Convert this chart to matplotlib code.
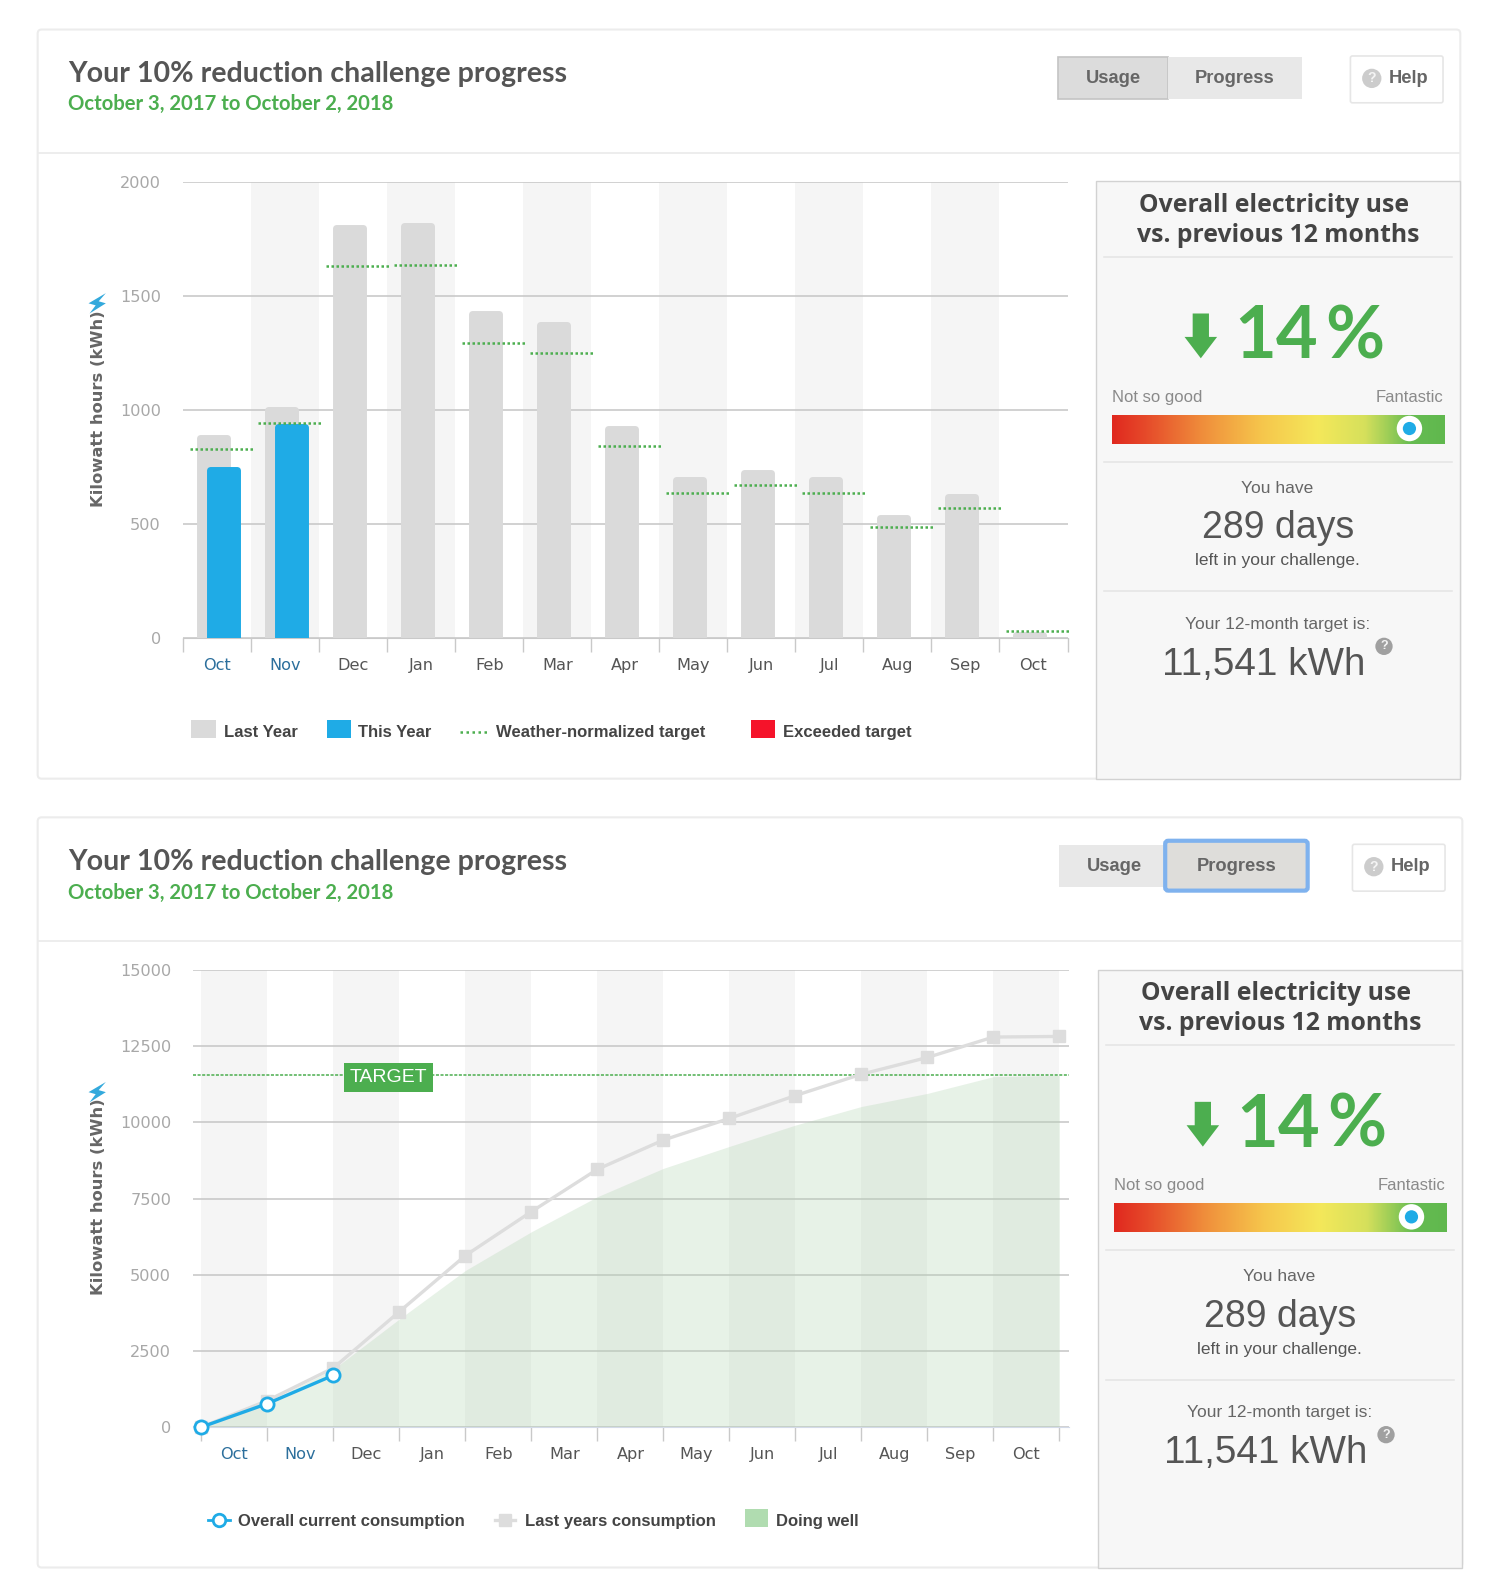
import numpy as np
import matplotlib
matplotlib.use("Agg")
import matplotlib.pyplot as plt
from matplotlib.patches import Rectangle, FancyBboxPatch, Circle, Ellipse, Polygon
from matplotlib.colors import LinearSegmentedColormap

W, H = 1474.0, 1568.0

months = ['Oct', 'Nov', 'Dec', 'Jan', 'Feb', 'Mar', 'Apr', 'May', 'Jun', 'Jul', 'Aug', 'Sep', 'Oct']

# usage chart (kWh per month)
last_year = [893, 1018, 1812, 1821, 1437, 1388, 933, 710, 741, 710, 540, 634, 30]
this_year = [754, 942]
monthly_target = [830, 946, 1634, 1638, 1295, 1250, 844, 638, 670, 638, 487, 571, 31]

# progress chart (cumulative kWh)
last_year_total = [0, 870, 1940, 3790, 5630, 7070, 8460, 9420, 10130, 10880, 11580, 12130, 12800, 12820]
current_total = [0, 770, 1700]
doing_well = [0, 830, 1900, 3550, 5140, 6410, 7560, 8490, 9210, 9910, 10520, 10950, 11500, 11541]
target_total = 11541

GREEN = '#4cae4f'
BLUE = '#1fabe6'
GRID = '#c9c9c9'
TITLE_FONT = 'Lato'
UI_FONT = 'Liberation Sans'

fig = plt.figure(figsize=(15, 15.96), dpi=100, facecolor='white')
bg = fig.add_axes([0, 0, 1, 1])
bg.set_xlim(0, W)
bg.set_ylim(H, 0)
bg.axis('off')


def txt(x, y, s, size, color='#555555', ha='left', weight='normal', family=UI_FONT, **kw):
    # va=center sits a bit high for these fonts
    return bg.text(x, y + 2, s, fontsize=size, color=color, ha=ha, va='center', fontweight=weight, family=family, **kw)


def box(x0, y0, x1, y1, fc, ec='none', lw=1, **kw):
    r = Rectangle((x0, y0), x1 - x0, y1 - y0, facecolor=fc, edgecolor=ec, linewidth=lw, **kw)
    bg.add_patch(r)
    return r


def rounded(x0, y0, x1, y1, fc, ec, lw=1, rad=4):
    p = FancyBboxPatch((x0 + rad, y0 + rad), x1 - x0 - 2 * rad, y1 - y0 - 2 * rad,
                       boxstyle='round,pad=%d,rounding_size=%d' % (rad, rad),
                       facecolor=fc, edgecolor=ec, linewidth=lw)
    bg.add_patch(p)


def help_mark(x, y, r, color, size):
    bg.add_patch(Circle((x, y), r, facecolor=color, edgecolor='none'))
    txt(x, y - 2, '?', size, color='#f4f4f4', ha='center', weight='bold')


def card(top, bottom, dx, dy):
    # white card with header, buttons and the summary panel
    rounded(37, top, 1435 + dx, bottom, 'white', '#ececec', lw=1.5)
    bg.plot([37, 1435 + dx], [150 + dy, 150 + dy], color='#ececec', lw=1.3)
    txt(66.5, 70.5 + dy, 'Your 10% reduction challenge progress', 20.6, color='#555555', weight='bold', family=TITLE_FONT)
    txt(66.5, 100.5 + dy, 'October 3, 2017 to October 2, 2018', 14.6, color=GREEN, weight='bold', family=TITLE_FONT)

    rounded(1327 + dx, 55 + dy, 1418 + dx, 101 + dy, 'white', '#e6e6e6', lw=1.2, rad=2)
    help_mark(1348 + dx, 77 + dy, 9.5, '#cccccc', 10)
    txt(1365 + dx, 75 + dy, 'Help', 13.2, color='#666666', weight='bold')

    box(1077 + dx, 178 + dy, 1435 + dx, bottom, '#f7f7f7', ec='#d2d2d2', lw=1)
    txt(1252 + dx, 199.5 + dy, 'Overall electricity use', 17.8, color='#444444', ha='center', weight='bold', family='Open Sans')
    txt(1256 + dx, 229.5 + dy, 'vs. previous 12 months', 17.8, color='#444444', ha='center', weight='bold', family='Open Sans')
    for ysep in (252, 454, 581):
        bg.plot([1085 + dx, 1427 + dx], [ysep + dy, ysep + dy], color='#e6e6e6', lw=1.2)

    bg.add_patch(Polygon(np.array([[1172, 308], [1188, 308], [1188, 331], [1196, 331], [1180, 352], [1164, 331], [1172, 331]]) + [dx, dy],
                         facecolor=GREEN, edgecolor='none'))
    txt(1213 + dx, 330 + dy, '14', 52, color=GREEN, family='Lato', weight='bold')
    txt(1302 + dx, 330 + dy, '%', 52, color=GREEN, family='Lato', weight='bold')

    txt(1093 + dx, 388.5 + dy, 'Not so good', 12, color='#8a8a8a')
    txt(1418 + dx, 388.5 + dy, 'Fantastic', 12, color='#8a8a8a', ha='right')
    bg.imshow(np.linspace(0, 1, 256).reshape(1, -1), cmap=gauge_cmap, aspect='auto',
              extent=(1093 + dx, 1420 + dx, 436 + dy, 408 + dy), zorder=2)
    bg.add_patch(Ellipse((1385 + dx, 421 + dy), 25, 25, facecolor='white', edgecolor='none', zorder=3))
    bg.add_patch(Ellipse((1385 + dx, 421 + dy), 13, 13, facecolor=BLUE, edgecolor='none', zorder=4))

    txt(1255 + dx, 477.5 + dy, 'You have', 12.5, color='#666666', ha='center')
    txt(1255.5 + dx, 517 + dy, '289 days', 27, color='#555555', ha='center')
    txt(1255 + dx, 549 + dy, 'left in your challenge.', 12.5, color='#555555', ha='center')
    txt(1255 + dx, 611.5 + dy, 'Your 12-month target is:', 12.5, color='#666666', ha='center')
    txt(1142 + dx, 651 + dy, '11,541 kWh', 27.8, color='#555555')
    help_mark(1360 + dx, 635 + dy, 8.5, '#a0a0a0', 9)


def bolt(dy):
    pts = np.array([[104, 288], [87, 298], [94, 300], [88, 308], [104, 298], [97, 296]]) + [0, dy]
    bg.add_patch(Polygon(pts, facecolor='#33a9dc', edgecolor='none'))


def style_axes(ax, ticks, centers, y_ticks):
    ax.patch.set_alpha(0)
    for side in ('top', 'left', 'right'):
        ax.spines[side].set_visible(False)
    ax.spines['bottom'].set_color(GRID)
    ax.set_xticks(ticks)
    ax.set_xticklabels([])
    ax.tick_params(axis='x', which='major', length=10, color=GRID, width=1)
    ax.set_xticks(centers, minor=True)
    ax.set_xticklabels(months, minor=True, fontsize=11.6, family='DejaVu Sans', color='#555555')
    ax.tick_params(axis='x', which='minor', length=0, pad=14.5)
    for i, lab in enumerate(ax.get_xticklabels(minor=True)):
        if i < 2:
            lab.set_color('#2c6f9c')
    ax.set_yticks(y_ticks)
    ax.tick_params(axis='y', length=0, pad=16, labelsize=11.6, labelcolor='#a8a8a8')
    ax.grid(axis='y', color=GRID, lw=1.2)
    ax.set_axisbelow(True)


gauge_cmap = LinearSegmentedColormap.from_list('gauge', [
    (0, '#e0281f'), (0.1, '#e64a2a'), (0.28, '#f0913c'), (0.45, '#f6c64c'),
    (0.62, '#f4e85a'), (0.76, '#d6e05c'), (0.9, '#66bc52'), (1, '#60b84e')])

card(29, 765, 0, 0)
card(803, 1540, 2, 774.5)
bolt(0)
bolt(775)

# usage chart
ax1 = fig.add_axes([180 / W, 1 - 627 / H, 869 / W, 448 / H])
ax1.set_xlim(-0.5, 12.5)
ax1.set_ylim(0, 2000)
x = np.arange(len(months))
for i in range(1, 13, 2):
    ax1.axvspan(i - 0.5, i + 0.5, color='#f5f5f5', lw=0, zorder=0)
style_axes(ax1, np.arange(-0.5, 13), x, [0, 500, 1000, 1500, 2000])
# thick round-joined edge gives the rounded bar corners, so take its half width off the height
edge = 15
ax1.bar(x - 0.055, np.array(last_year) - edge, width=0.39, color='#dadada', edgecolor='#dadada', lw=5, joinstyle='round', zorder=2)
ax1.bar(x[:len(this_year)] + 0.09, np.array(this_year) - edge, width=0.39, color=BLUE, edgecolor=BLUE, lw=5, joinstyle='round', zorder=3)
for i, v in enumerate(monthly_target):
    ax1.plot([i - 0.40, i + 0.52], [v, v], color=GREEN, lw=1.8, ls=(0, (1, 1)), zorder=4, clip_on=False)

# legend of usage chart
box(188, 707, 212, 725, '#dadada')
txt(220, 717.5, 'Last Year', 12, color='#444444', weight='bold')
box(321, 707, 345, 725, BLUE)
txt(352, 717.5, 'This Year', 12, color='#444444', weight='bold')
bg.plot([452, 479], [719, 719], color=GREEN, lw=1.8, ls=(0, (1, 1.4)))
txt(487, 717.5, 'Weather-normalized target', 12, color='#444444', weight='bold')
box(738, 707, 762, 725, '#f5132a')
txt(769, 717.5, 'Exceeded target', 12, color='#444444', weight='bold')
bg.text(97, 402, 'Kilowatt hours (kWh)', fontsize=11.8, color='#666666', ha='center', va='center', fontweight='bold', family='DejaVu Sans', rotation=90)

# progress chart
ax2 = fig.add_axes([190 / W, 1 - 1402 / H, 860 / W, 449 / H])
ax2.set_xlim(-8 / 64.85, 13 + 9 / 64.85)
ax2.set_ylim(0, 15000)
x2 = np.arange(len(last_year_total))
for i in range(0, 13, 2):
    ax2.axvspan(i, i + 1, color='#f5f5f5', lw=0, zorder=0)
style_axes(ax2, x2, x2[:-1] + 0.5, [0, 2500, 5000, 7500, 10000, 12500, 15000])
ax2.spines['bottom'].set_color('#d3dae8')
ax2.fill_between(x2, doing_well, color='#b2d4b2', alpha=0.3, lw=0, zorder=1)
ax2.axhline(target_total, color=GREEN, lw=1.1, ls=(0, (2, 1)), zorder=2)
ax2.plot(x2, last_year_total, color='#dddddd', lw=2.4, marker='s', ms=8, mec='#dddddd', zorder=3, clip_on=False)
ax2.plot(x2[:len(current_total)], current_total, color=BLUE, lw=2.4, marker='o', ms=9.5, mfc='white', mec=BLUE, mew=2, zorder=4, clip_on=False)
ax2.text(2.83, target_total, 'TARGET', fontsize=14, color='white', family=UI_FONT, ha='center', va='center_baseline', zorder=5,
         bbox=dict(boxstyle='square,pad=0.3', facecolor=GREEN, edgecolor='none'))

# legend of progress chart
bg.plot([204, 215, 226], [1493, 1493, 1493], color=BLUE, lw=2, marker='o', ms=9, mfc='white', mec=BLUE, mew=2, markevery=[1])
txt(234, 1492.5, 'Overall current consumption', 12, color='#444444', weight='bold')
bg.plot([486, 496, 506], [1493, 1493, 1493], color='#dddddd', lw=2.4, marker='s', ms=8, mec='#dddddd', markevery=[1])
txt(516, 1492.5, 'Last years consumption', 12, color='#444444', weight='bold')
box(732, 1483, 755, 1500, '#b0dcb0')
txt(763, 1492.5, 'Doing well', 12, color='#444444', weight='bold')
bg.text(97, 1176, 'Kilowatt hours (kWh)', fontsize=11.8, color='#666666', ha='center', va='center', fontweight='bold', family='DejaVu Sans', rotation=90)

# buttons, top card has Usage pressed, bottom card Progress
box(1040, 56, 1148, 97, '#dcdcdc', ec='#c4c4c4', lw=1.2)
box(1148, 56, 1279, 97, '#e8e8e8')
txt(1094, 75.5, 'Usage', 13.2, color='#666666', ha='center', weight='bold')
txt(1213, 75.5, 'Progress', 13.2, color='#666666', ha='center', weight='bold')
box(1041, 830, 1146, 871, '#e8e8e8')
rounded(1145, 826, 1285, 875, '#deddda', '#7fb2ee', lw=3, rad=3)
txt(1095, 849.5, 'Usage', 13.2, color='#666666', ha='center', weight='bold')
txt(1215, 849.5, 'Progress', 13.2, color='#666666', ha='center', weight='bold')

bg.set_xlim(0, W)
bg.set_ylim(H, 0)
fig.savefig('out.png', dpi=100)
